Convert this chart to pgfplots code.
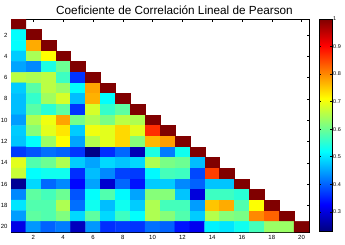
\documentclass[border=0pt]{standalone}
\usepackage{fontspec}
\setmainfont{Liberation Sans}
\usepackage{pgfplots}
\pgfplotsset{compat=1.18}
\usepackage{pgfplotstable}

\pgfplotstableread[row sep=\\]{
x y c\\
1 1 1\\ 2 1 nan\\ 3 1 nan\\ 4 1 nan\\ 5 1 nan\\ 6 1 nan\\ 7 1 nan\\ 8 1 nan\\ 9 1 nan\\ 10 1 nan\\ 11 1 nan\\ 12 1 nan\\ 13 1 nan\\ 14 1 nan\\ 15 1 nan\\ 16 1 nan\\ 17 1 nan\\ 18 1 nan\\ 19 1 nan\\ 20 1 nan\\
1 2 0.52\\ 2 2 1\\ 3 2 nan\\ 4 2 nan\\ 5 2 nan\\ 6 2 nan\\ 7 2 nan\\ 8 2 nan\\ 9 2 nan\\ 10 2 nan\\ 11 2 nan\\ 12 2 nan\\ 13 2 nan\\ 14 2 nan\\ 15 2 nan\\ 16 2 nan\\ 17 2 nan\\ 18 2 nan\\ 19 2 nan\\ 20 2 nan\\
1 3 0.52\\ 2 3 0.775\\ 3 3 1\\ 4 3 nan\\ 5 3 nan\\ 6 3 nan\\ 7 3 nan\\ 8 3 nan\\ 9 3 nan\\ 10 3 nan\\ 11 3 nan\\ 12 3 nan\\ 13 3 nan\\ 14 3 nan\\ 15 3 nan\\ 16 3 nan\\ 17 3 nan\\ 18 3 nan\\ 19 3 nan\\ 20 3 nan\\
1 4 0.48\\ 2 4 0.646\\ 3 4 0.711\\ 4 4 1\\ 5 4 nan\\ 6 4 nan\\ 7 4 nan\\ 8 4 nan\\ 9 4 nan\\ 10 4 nan\\ 11 4 nan\\ 12 4 nan\\ 13 4 nan\\ 14 4 nan\\ 15 4 nan\\ 16 4 nan\\ 17 4 nan\\ 18 4 nan\\ 19 4 nan\\ 20 4 nan\\
1 5 0.45\\ 2 5 0.43\\ 3 5 0.54\\ 4 5 0.60\\ 5 5 1\\ 6 5 nan\\ 7 5 nan\\ 8 5 nan\\ 9 5 nan\\ 10 5 nan\\ 11 5 nan\\ 12 5 nan\\ 13 5 nan\\ 14 5 nan\\ 15 5 nan\\ 16 5 nan\\ 17 5 nan\\ 18 5 nan\\ 19 5 nan\\ 20 5 nan\\
1 6 0.66\\ 2 6 0.65\\ 3 6 0.66\\ 4 6 0.565\\ 5 6 0.365\\ 6 6 1\\ 7 6 nan\\ 8 6 nan\\ 9 6 nan\\ 10 6 nan\\ 11 6 nan\\ 12 6 nan\\ 13 6 nan\\ 14 6 nan\\ 15 6 nan\\ 16 6 nan\\ 17 6 nan\\ 18 6 nan\\ 19 6 nan\\ 20 6 nan\\
1 7 0.48\\ 2 7 0.585\\ 3 7 0.66\\ 4 7 0.634\\ 5 7 0.52\\ 6 7 0.78\\ 7 7 1\\ 8 7 nan\\ 9 7 nan\\ 10 7 nan\\ 11 7 nan\\ 12 7 nan\\ 13 7 nan\\ 14 7 nan\\ 15 7 nan\\ 16 7 nan\\ 17 7 nan\\ 18 7 nan\\ 19 7 nan\\ 20 7 nan\\
1 8 0.47\\ 2 8 0.557\\ 3 8 0.64\\ 4 8 0.68\\ 5 8 0.47\\ 6 8 0.77\\ 7 8 0.52\\ 8 8 1\\ 9 8 nan\\ 10 8 nan\\ 11 8 nan\\ 12 8 nan\\ 13 8 nan\\ 14 8 nan\\ 15 8 nan\\ 16 8 nan\\ 17 8 nan\\ 18 8 nan\\ 19 8 nan\\ 20 8 nan\\
1 9 0.47\\ 2 9 0.585\\ 3 9 0.55\\ 4 9 0.59\\ 5 9 0.365\\ 6 9 0.68\\ 7 9 0.557\\ 8 9 0.59\\ 9 9 1\\ 10 9 nan\\ 11 9 nan\\ 12 9 nan\\ 13 9 nan\\ 14 9 nan\\ 15 9 nan\\ 16 9 nan\\ 17 9 nan\\ 18 9 nan\\ 19 9 nan\\ 20 9 nan\\
1 10 0.445\\ 2 10 0.65\\ 3 10 0.70\\ 4 10 0.78\\ 5 10 0.607\\ 6 10 0.65\\ 7 10 0.61\\ 8 10 0.66\\ 9 10 0.65\\ 10 10 1\\ 11 10 nan\\ 12 10 nan\\ 13 10 nan\\ 14 10 nan\\ 15 10 nan\\ 16 10 nan\\ 17 10 nan\\ 18 10 nan\\ 19 10 nan\\ 20 10 nan\\
1 11 0.48\\ 2 11 0.62\\ 3 11 0.69\\ 4 11 0.73\\ 5 11 0.48\\ 6 11 0.70\\ 7 11 0.69\\ 8 11 0.74\\ 9 11 0.69\\ 10 11 0.87\\ 11 11 1\\ 12 11 nan\\ 13 11 nan\\ 14 11 nan\\ 15 11 nan\\ 16 11 nan\\ 17 11 nan\\ 18 11 nan\\ 19 11 nan\\ 20 11 nan\\
1 12 0.475\\ 2 12 0.52\\ 3 12 0.635\\ 4 12 0.71\\ 5 12 0.45\\ 6 12 0.655\\ 7 12 0.69\\ 8 12 0.74\\ 9 12 0.62\\ 10 12 0.765\\ 11 12 0.785\\ 12 12 1\\ 13 12 nan\\ 14 12 nan\\ 15 12 nan\\ 16 12 nan\\ 17 12 nan\\ 18 12 nan\\ 19 12 nan\\ 20 12 nan\\
1 13 0.37\\ 2 13 0.39\\ 3 13 0.41\\ 4 13 0.40\\ 5 13 0.365\\ 6 13 0.235\\ 7 13 0.36\\ 8 13 0.405\\ 9 13 0.27\\ 10 13 0.54\\ 11 13 0.42\\ 12 13 0.53\\ 13 13 1\\ 14 13 nan\\ 15 13 nan\\ 16 13 nan\\ 17 13 nan\\ 18 13 nan\\ 19 13 nan\\ 20 13 nan\\
1 14 0.69\\ 2 14 0.58\\ 3 14 0.60\\ 4 14 0.65\\ 5 14 0.48\\ 6 14 0.45\\ 7 14 0.49\\ 8 14 0.475\\ 9 14 0.49\\ 10 14 0.65\\ 11 14 0.61\\ 12 14 0.60\\ 13 14 0.47\\ 14 14 1\\ 15 14 nan\\ 16 14 nan\\ 17 14 nan\\ 18 14 nan\\ 19 14 nan\\ 20 14 nan\\
1 15 0.67\\ 2 15 0.52\\ 3 15 0.53\\ 4 15 0.53\\ 5 15 0.36\\ 6 15 0.47\\ 7 15 0.43\\ 8 15 0.375\\ 9 15 0.37\\ 10 15 0.515\\ 11 15 0.57\\ 12 15 0.565\\ 13 15 0.38\\ 14 15 0.857\\ 15 15 1\\ 16 15 nan\\ 17 15 nan\\ 18 15 nan\\ 19 15 nan\\ 20 15 nan\\
1 16 0.245\\ 2 16 0.49\\ 3 16 0.405\\ 4 16 0.43\\ 5 16 0.33\\ 6 16 0.45\\ 7 16 0.29\\ 8 16 0.405\\ 9 16 0.34\\ 10 16 0.48\\ 11 16 0.48\\ 12 16 0.43\\ 13 16 0.40\\ 14 16 0.475\\ 15 16 0.475\\ 16 16 1\\ 17 16 nan\\ 18 16 nan\\ 19 16 nan\\ 20 16 nan\\
1 17 0.43\\ 2 17 0.59\\ 3 17 0.57\\ 4 17 0.60\\ 5 17 0.39\\ 6 17 0.52\\ 7 17 0.58\\ 8 17 0.515\\ 9 17 0.45\\ 10 17 0.62\\ 11 17 0.62\\ 12 17 0.475\\ 13 17 0.30\\ 14 17 0.565\\ 15 17 0.565\\ 16 17 0.55\\ 17 17 1\\ 18 17 nan\\ 19 17 nan\\ 20 17 nan\\
1 18 0.50\\ 2 18 0.58\\ 3 18 0.58\\ 4 18 0.65\\ 5 18 0.41\\ 6 18 0.53\\ 7 18 0.47\\ 8 18 0.53\\ 9 18 0.48\\ 10 18 0.65\\ 11 18 0.57\\ 12 18 0.57\\ 13 18 0.445\\ 14 18 0.755\\ 15 18 0.775\\ 16 18 0.58\\ 17 18 0.71\\ 18 18 1\\ 19 18 nan\\ 20 18 nan\\
1 19 0.445\\ 2 19 0.59\\ 3 19 0.58\\ 4 19 0.615\\ 5 19 0.49\\ 6 19 0.59\\ 7 19 0.49\\ 8 19 0.565\\ 9 19 0.52\\ 10 19 0.65\\ 11 19 0.62\\ 12 19 0.58\\ 13 19 0.48\\ 14 19 0.655\\ 15 19 0.62\\ 16 19 0.61\\ 17 19 0.80\\ 18 19 0.83\\ 19 19 1\\ 20 19 nan\\
1 20 0.307\\ 2 20 0.44\\ 3 20 0.40\\ 4 20 0.42\\ 5 20 0.277\\ 6 20 0.44\\ 7 20 0.36\\ 8 20 0.37\\ 9 20 0.365\\ 10 20 0.41\\ 11 20 0.40\\ 12 20 0.34\\ 13 20 0.315\\ 14 20 0.51\\ 15 20 0.50\\ 16 20 0.53\\ 17 20 0.57\\ 18 20 0.635\\ 19 20 0.635\\ 20 20 1\\
}\corrtable

\begin{document}
\begin{tikzpicture}
\path[use as bounding box] (-11bp,-13bp) rectangle (334bp,232bp);
\begin{axis}[
  scale only axis, width=298bp, height=213bp,
  at={(0,0)}, anchor=south west,
  xmin=0.5, xmax=20.5, ymin=0.5, ymax=20.5, y dir=reverse,
  xtick={2,4,...,20}, ytick={2,4,...,20},
  tick align=inside, major tick length=2.5bp,
  tick label style={font=\fontsize{6}{7}\selectfont},
  /pgf/number format/assume math mode=true,
  axis line style={black, line width=0.5bp},
  tick style={black, line width=0.4bp},
  colormap/jet,
  point meta min=0.23, point meta max=1,
  unbounded coords=jump,
  every axis title shift=0pt,
  title={Coeficiente de Correlación Lineal de Pearson},
  title style={font=\fontsize{11.8}{13}\selectfont, anchor=base,
    at={(axis description cs:0.5,1)}, yshift=5bp, xshift=14.5bp, inner sep=0pt},
  colorbar,
  colorbar style={
    scale only axis,
    width=13bp, height=212bp,
    at={(parent axis.north east)}, anchor=north west, xshift=1.5bp,
    ytick={0.3,0.4,0.5,0.6,0.7,0.8,0.9,1},
    yticklabel style={font=\fontsize{5.5}{6}\selectfont, inner sep=1bp},
    /pgf/number format/assume math mode=true,
    tick align=inside, major tick length=2bp,
    ytick pos=both, yticklabel pos=right,
    axis line style={black, line width=0.5bp},
    tick style={black, line width=0.4bp},
  },
]
\addplot[matrix plot*, mesh/cols=20, point meta=explicit]
  table[x=x, y=y, meta=c] {\corrtable};
\end{axis}
\end{tikzpicture}
\end{document}
